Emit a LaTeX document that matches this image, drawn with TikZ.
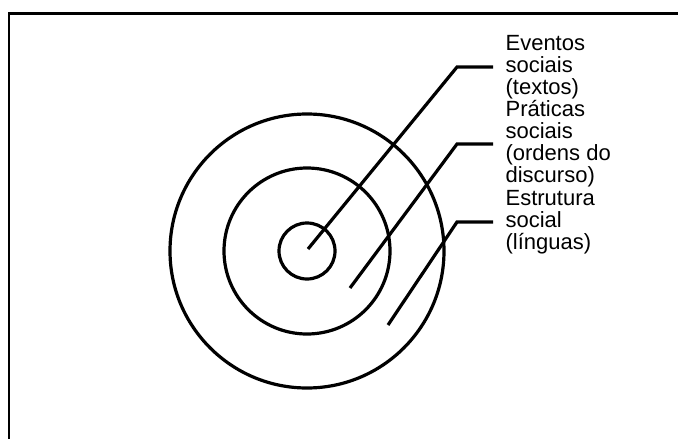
\documentclass[tikz,border=0pt]{standalone}
\usepackage{fontspec}
\setmainfont{Liberation Sans}
\usepackage{xcolor}
\usepackage{tikz}

\begin{document}
\begin{tikzpicture}[x=1pt,y=-1pt,line width=3.2pt,
  rotulo/.style={anchor=north west,inner xsep=11pt,inner ysep=0pt,align=left,font=\fontsize{22}{22}\selectfont}]
\useasboundingbox (0,0) rectangle (678,439);
\draw[line width=2.6pt] (9,439) -- (9,13.5) -- (678,13.5);
\foreach \r in {28,83,137}
  \draw (307,251) circle[radius=\r pt];
\foreach \nm/\ix/\iy/\ky/\ty/\txt in {eventos/308/249/67/33.8/{Eventos\\sociais\\(textos)}, praticas/350/288/144/99/{Práticas\\sociais\\(ordens do\\discurso)}, estrutura/388/325/222/188.8/{Estrutura\\social\\(línguas)}}{
  \coordinate (\nm-ini) at (\ix,\iy);
  \coordinate (\nm-dobra) at (457,\ky);
  \node[rotulo] (\nm) at (493,\ty) {\txt};
  \draw (\nm-ini) -- (\nm-dobra) -- (\nm-dobra -| \nm.west);}
\end{tikzpicture}
\end{document}
